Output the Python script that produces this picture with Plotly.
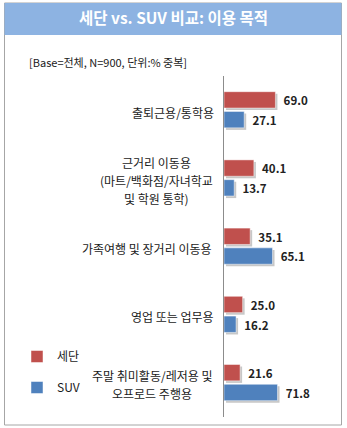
import plotly.graph_objects as go

# ---- data ----
categories = [
    "출퇴근용/통학용",
    "근거리 이동용<br>(마트/백화점/자녀학교<br>및 학원 통학)",
    "가족여행 및 장거리 이동용",
    "영업 또는 업무용",
    "주말 취미활동/레저용 및<br>오프로드 주행용",
]
sedan = [69.0, 40.1, 35.1, 25.0, 21.6]
suv = [27.1, 13.7, 65.1, 16.2, 71.8]
series_names = ["세단", "SUV"]
title_text = "세단 vs. SUV 비교: 이용 목적"
subtitle_text = "[Base=전체, N=900, 단위:% 중복]"

# ---- geometry / style ----
W, H = 347, 428
ML, MR, MT, MB = 224, 6, 76, 11
PW, PH = W - ML - MR, H - MT - MB
X_MAX = 157
FONT = "Noto Sans CJK KR"
RED, BLUE = "#c0504d", "#4f81bd"
BAR_W = 0.24
OFFSETS = [-0.27, 0.02]
SHADOW_DX = 2.7   # in axis units (~2 px)
SHADOW_DY = 0.03
LABEL_SIZE = 12
LINE_STEP = 18    # px between label lines
LABEL_GAP = 7     # px between label block and axis


def px_x(p):
    return (p - ML) / PW


def px_y(p):
    return (H - MB - p) / PH


def text_width(s, size):
    """Rough advance width of a string in Noto Sans CJK."""
    w = 0.0
    for ch in s:
        if "\uac00" <= ch <= "\ud7a3":
            w += 1.0
        elif ch == " ":
            w += 0.224
        elif ch in "/()":
            w += 0.36
        else:
            w += 0.55
    return w * size


idx = list(range(len(categories)))
fig = go.Figure()

# soft drop shadows under each bar
for vals, off in zip([sedan, suv], OFFSETS):
    fig.add_trace(go.Bar(
        y=idx, x=vals, orientation="h", base=SHADOW_DX,
        width=BAR_W, offset=off + SHADOW_DY,
        marker=dict(color="rgba(0,0,0,0.22)", line=dict(width=0)),
        showlegend=False, hoverinfo="skip",
    ))

for name, vals, col, off in zip(series_names, [sedan, suv], [RED, BLUE], OFFSETS):
    fig.add_trace(go.Bar(
        y=idx, x=vals, orientation="h", name=name,
        width=BAR_W, offset=off,
        marker=dict(color=col, line=dict(color="rgba(255,255,255,0.6)", width=0.8)),
        texttemplate="\u00a0\u00a0<b>%{x:.1f}</b>", textposition="outside",
        textfont=dict(family=FONT, size=12, color="#222"),
        cliponaxis=False, legendgroup=name,
    ))

# category labels: block right-aligned by the axis, its lines centred
annotations = []
for i, c in enumerate(categories):
    lines = c.split("<br>")
    n = len(lines)
    widest = max(text_width(l, LABEL_SIZE) for l in lines)
    centre = -LABEL_GAP - widest / 2
    for k, line in enumerate(lines):
        annotations.append(dict(
            x=0, xref="paper", y=i, yref="y", text=line, showarrow=False,
            xanchor="center", yanchor="middle", align="center",
            xshift=centre, yshift=-((k - (n - 1) / 2) * LINE_STEP + 2),
            font=dict(family=FONT, size=LABEL_SIZE, color="#1a1a1a"),
        ))
annotations.append(dict(
    x=px_x(27), xref="paper", y=px_y(62), yref="paper", text=subtitle_text,
    showarrow=False, xanchor="left", yanchor="middle",
    font=dict(family=FONT, size=11, color="#1a1a1a"),
))

shapes = [
    # outer frame
    dict(type="rect", xref="paper", yref="paper",
         x0=px_x(4.5), x1=px_x(341.5), y0=px_y(425), y1=px_y(3),
         line=dict(color="#a6a6a6", width=1), fillcolor="rgba(0,0,0,0)", layer="below"),
    # title band
    dict(type="rect", xref="paper", yref="paper",
         x0=px_x(4.5), x1=px_x(341.5), y0=px_y(35), y1=px_y(3),
         line=dict(width=0), fillcolor="#8db3e2", layer="below"),
]

fig.update_layout(
    width=W, height=H,
    margin=dict(l=ML, r=MR, t=MT, b=MB, pad=0),
    paper_bgcolor="white", plot_bgcolor="white",
    barmode="overlay",
    title=dict(text=f"<b>{title_text}</b>", x=0.5, xref="container",
               xanchor="center", y=1 - 19 / H, yref="container", yanchor="middle",
               font=dict(family=FONT, size=15.5, color="white")),
    xaxis=dict(range=[0, X_MAX], visible=False, fixedrange=True),
    yaxis=dict(range=[len(categories) - 0.5, -0.5], showticklabels=False,
               showgrid=False, zeroline=False, showline=True,
               linecolor="#8c8c8c", linewidth=1, ticks=""),
    legend=dict(xref="container", yref="container", x=17 / W, y=1 - 342 / H,
                xanchor="left", yanchor="top", traceorder="grouped",
                tracegroupgap=12, font=dict(family=FONT, size=12, color="#1a1a1a"),
                bgcolor="rgba(0,0,0,0)", itemclick=False),
    annotations=annotations,
    shapes=shapes,
    showlegend=True,
)

fig.write_html("out.html")
